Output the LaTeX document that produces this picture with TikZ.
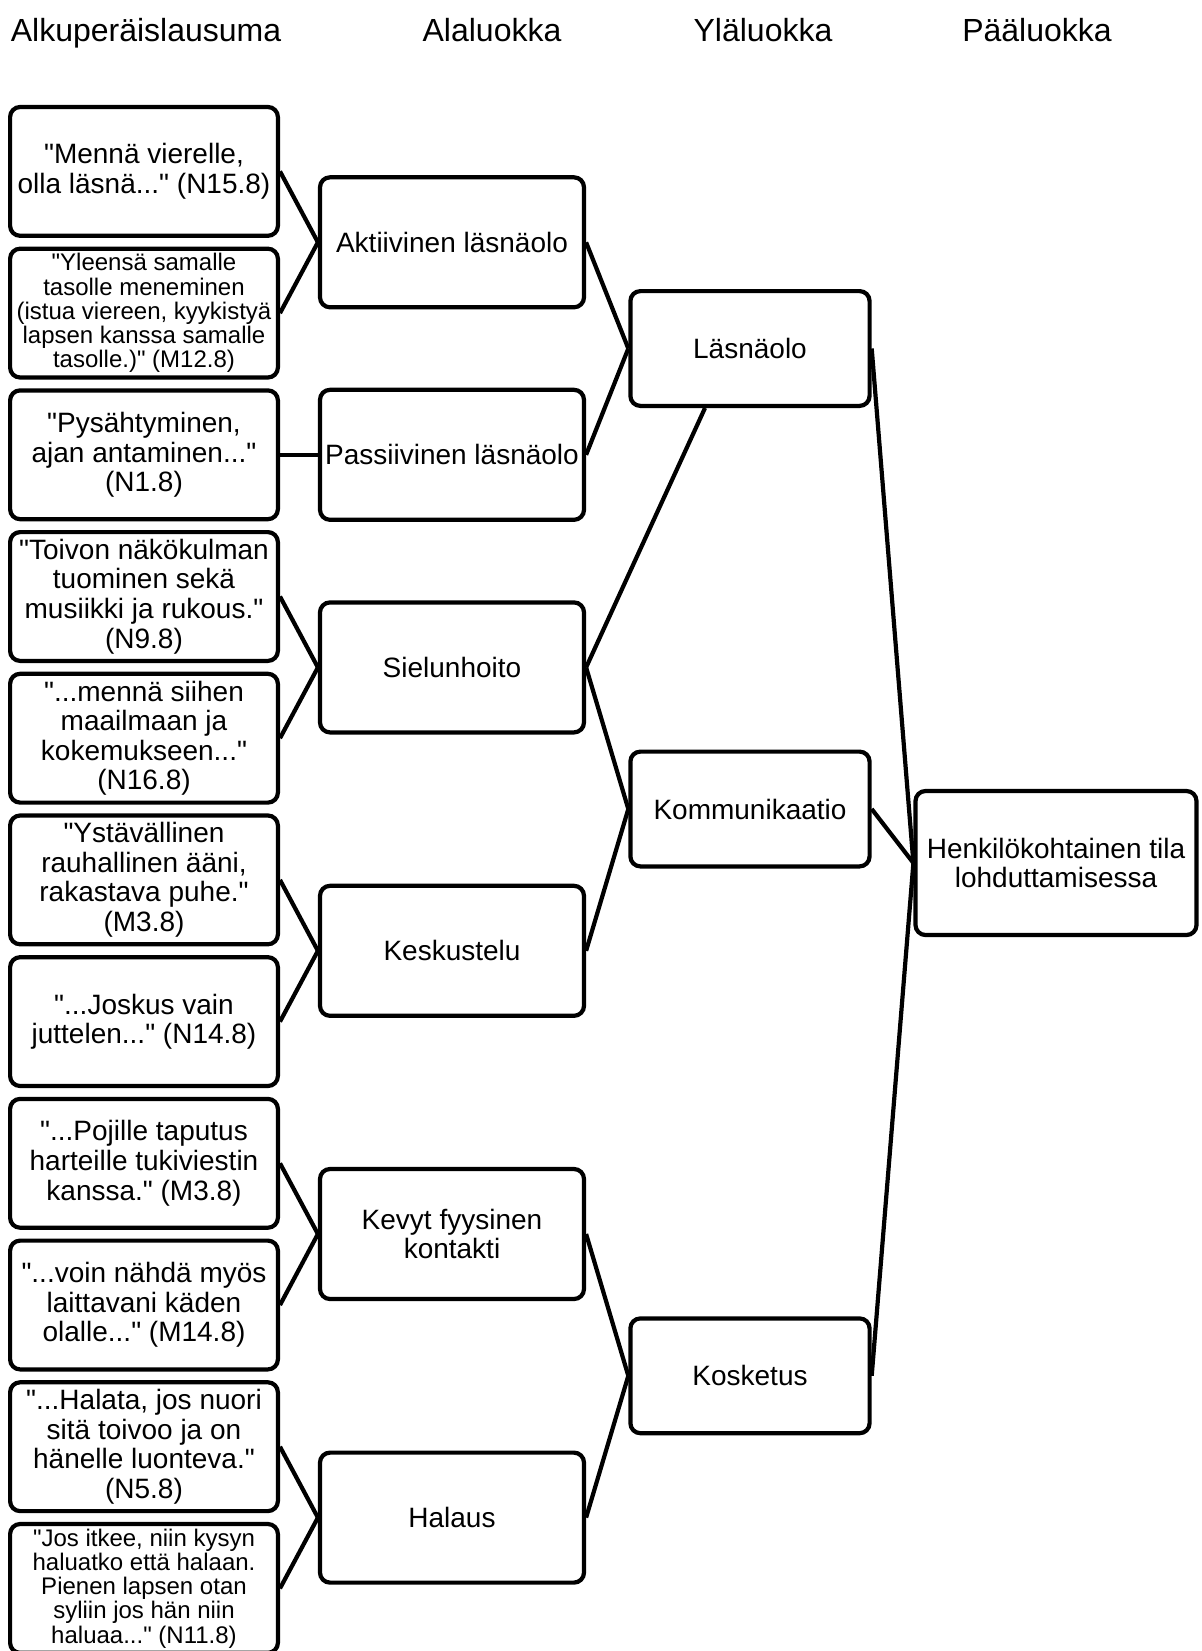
\documentclass[tikz,border=0pt]{standalone}
\usepackage{fontspec}
\setmainfont{Liberation Sans}[Ligatures=TeXOff]
\begin{document}
\begin{tikzpicture}[x=0.5pt, y=-0.5pt,
    box/.style={draw, line width=2.1pt, rounded corners=5pt, align=center,
                inner sep=0pt, font=\fontsize{14}{14.8}\selectfont},
    quotebox/.style={box, minimum width=133.9pt, minimum height=64.4pt},
    smallquote/.style={quotebox, font=\fontsize{12}{12.1}\selectfont},
    subbox/.style={box, minimum width=132pt, minimum height=65pt},
    upperbox/.style={box, minimum width=119.6pt, minimum height=57.4pt},
    mainbox/.style={box, minimum width=140.5pt, minimum height=72pt},
    heading/.style={font=\fontsize{16}{18}\selectfont, text depth=0pt},
    link/.style={line width=2.1pt}]
    \useasboundingbox (0,0) rectangle (1201,1651);

    % Column headings
    \node[heading] (h1) at  (146,29.5) {Alkuperäislausuma};
    \node[heading] (h2) at  (492,29.5) {Alaluokka};
    \node[heading] (h3) at  (763,29.5) {Yläluokka};
    \node[heading] (h4) at (1037,29.5) {Pääluokka};

    % Original quotes
    \node[quotebox]   (q1)  at (144,171.4)  {"Mennä vierelle,\\olla läsnä..." (N15.8)};
    \node[smallquote] (q2)  at (144,313.1)  {"Yleensä samalle\\tasolle meneminen\\(istua viereen, kyykistyä\\lapsen kanssa samalle\\tasolle.)" (M12.8)};
    \node[quotebox]   (q3)  at (144,454.8)  {"Pysähtyminen,\\ajan antaminen..."\\(N1.8)};
    \node[quotebox]   (q4)  at (144,596.5)  {"Toivon näkökulman\\tuominen sekä\\musiikki ja rukous."\\(N9.8)};
    \node[quotebox]   (q5)  at (144,738.2)  {"...mennä siihen\\maailmaan ja\\kokemukseen..."\\(N16.8)};
    \node[quotebox]   (q6)  at (144,879.9)  {"Ystävällinen\\rauhallinen ääni,\\rakastava puhe."\\(M3.8)};
    \node[quotebox]   (q7)  at (144,1021.6) {"...Joskus vain\\juttelen..." (N14.8)};
    \node[quotebox]   (q8)  at (144,1163.3) {"...Pojille taputus\\harteille tukiviestin\\kanssa." (M3.8)};
    \node[quotebox]   (q9)  at (144,1305)   {"...voin nähdä myös\\laittavani käden\\olalle..." (M14.8)};
    \node[quotebox]   (q10) at (144,1446.7) {"...Halata, jos nuori\\sitä toivoo ja on\\hänelle luonteva."\\(N5.8)};
    \node[smallquote] (q11) at (144,1588.4) {"Jos itkee, niin kysyn\\haluatko että halaan.\\Pienen lapsen otan\\syliin jos hän niin\\haluaa..." (N11.8)};

    % Subcategories
    \node[subbox] (akt)  at (452,242.3)  {Aktiivinen läsnäolo};
    \node[subbox] (pas)  at (452,454.8)  {Passiivinen läsnäolo};
    \node[subbox] (siel) at (452,667.4)  {Sielunhoito};
    \node[subbox] (kesk) at (452,950.8)  {Keskustelu};
    \node[subbox] (kev)  at (452,1234)   {Kevyt fyysinen\\kontakti};
    \node[subbox] (hal)  at (452,1517.6) {Halaus};

    % Upper categories
    \node[upperbox] (las)  at (750,348.5)  {Läsnäolo};
    \node[upperbox] (komm) at (750,809)    {Kommunikaatio};
    \node[upperbox] (kosk) at (750,1375.8) {Kosketus};

    % Main category
    \node[mainbox] (hlo) at (1056,863) {Henkilökohtainen tila\\lohduttamisessa};

    % Lines
    \draw[link] (q1.east)  -- (akt.west);
    \draw[link] (q2.east)  -- (akt.west);
    \draw[link] (q3.east)  -- (pas.west);
    \draw[link] (q4.east)  -- (siel.west);
    \draw[link] (q5.east)  -- (siel.west);
    \draw[link] (q6.east)  -- (kesk.west);
    \draw[link] (q7.east)  -- (kesk.west);
    \draw[link] (q8.east)  -- (kev.west);
    \draw[link] (q9.east)  -- (kev.west);
    \draw[link] (q10.east) -- (hal.west);
    \draw[link] (q11.east) -- (hal.west);
    \draw[link] (akt.east)  -- (las.west);
    \draw[link] (pas.east)  -- (las.west);
    \draw[link] (siel.east) -- ([xshift=-22.5pt]las.south);
    \draw[link] (siel.east) -- (komm.west);
    \draw[link] (kesk.east) -- (komm.west);
    \draw[link] (kev.east)  -- (kosk.west);
    \draw[link] (hal.east)  -- (kosk.west);
    \draw[link] (las.east)  -- (hlo.west);
    \draw[link] (komm.east) -- (hlo.west);
    \draw[link] (kosk.east) -- (hlo.west);
\end{tikzpicture}
\end{document}
